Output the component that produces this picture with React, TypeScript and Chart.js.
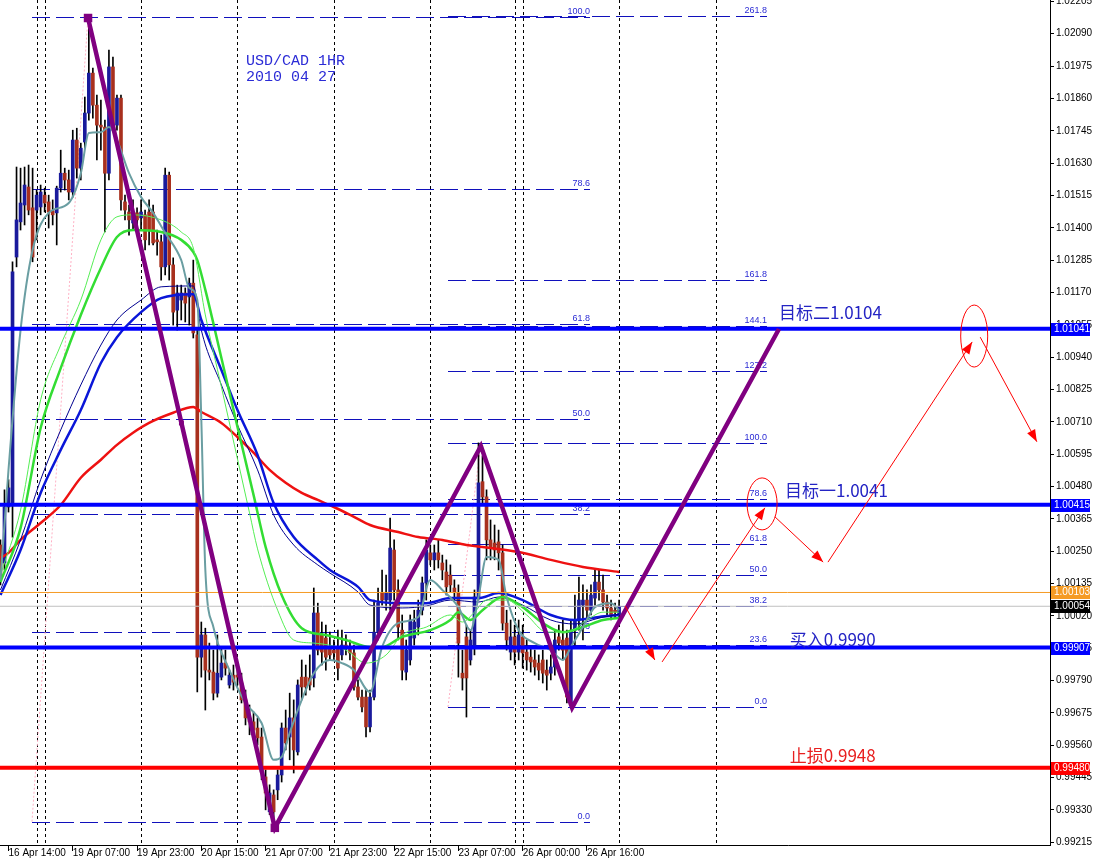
import React, { useEffect, useRef } from 'react';
import { Chart, registerables } from 'chart.js';

Chart.register(...registerables);

// ---------- candles (hourly USD/CAD), bar index starts at FIRST_BAR ----------
const FIRST_BAR = -2;
const OPEN = [
  1.00272, 1.00208, 1.00407, 1.00414, 1.01296, 1.01421, 1.01481, 1.01545, 1.01471, 1.01463,
  1.01474, 1.01516, 1.01492, 1.01460, 1.01453, 1.01541, 1.01594, 1.01570, 1.01527, 1.01712,
  1.01612, 1.01705, 1.01808, 1.01950, 1.01836, 1.01765, 1.01758, 1.01594, 1.01972, 1.01765,
  1.01861, 1.01492, 1.01456, 1.01417, 1.01453, 1.01435, 1.01446, 1.01456, 1.01456, 1.01357,
  1.01350, 1.01261, 1.01587, 1.01268, 1.01107, 1.01143, 1.01168, 1.01154, 1.01203, 1.01019,
  0.99873, 0.99952, 0.99827, 0.99820, 0.99745, 0.99802, 0.99852, 0.99774, 0.99809, 0.99809,
  0.99781, 0.99721, 0.99657, 0.99643, 0.99621, 0.99589, 0.99447, 0.99323, 0.99383, 0.99401,
  0.99454, 0.99621, 0.99589, 0.99657, 0.99536, 0.99802, 0.99802, 0.99799, 0.99799, 1.00030,
  0.99952, 0.99941, 0.99905, 0.99898, 0.99909, 0.99881, 0.99916, 0.99909, 0.99888, 0.99767,
  0.99731, 0.99731, 0.99625, 0.99731, 0.99962, 1.00101, 1.00076, 1.00076, 1.00254, 1.00112,
  0.99969, 0.99820, 0.99863, 0.99941, 0.99980, 1.00040, 1.00137, 1.00244, 1.00219, 1.00244,
  1.00208, 1.00176, 1.00165, 1.00119, 1.00101, 0.99816, 0.99945, 0.99863, 0.99909, 1.00087,
  1.00497, 1.00443, 1.00290, 1.00279, 1.00283, 1.00244, 0.99994, 0.99891, 0.99945, 0.99891,
  0.99945, 0.99891, 0.99873, 0.99863, 0.99852, 0.99863, 0.99827, 0.99816, 0.99838, 0.99945,
  0.99934, 0.99941, 0.99714, 0.99969, 1.00005, 1.00058, 1.00076, 1.00040, 1.00083, 1.00140,
  1.00112, 1.00069, 1.00048, 1.00040, 1.00023,
];
const HIGH = [
  1.00290, 1.00468, 1.00504, 1.01279, 1.01616, 1.01612, 1.01616, 1.01623, 1.01612, 1.01534,
  1.01552, 1.01541, 1.01516, 1.01499, 1.01548, 1.01676, 1.01612, 1.01605, 1.01747, 1.01754,
  1.01701, 1.01865, 1.02139, 1.01968, 1.01872, 1.01854, 1.01783, 1.02032, 1.02007, 1.01872,
  1.01872, 1.01516, 1.01481, 1.01499, 1.01471, 1.01499, 1.01463, 1.01499, 1.01481, 1.01392,
  1.01374, 1.01612, 1.01598, 1.01293, 1.01196, 1.01196, 1.01186, 1.01221, 1.01285, 1.01036,
  0.99998, 0.99976, 0.99923, 0.99898, 0.99952, 0.99905, 0.99898, 0.99827, 0.99845, 0.99834,
  0.99816, 0.99756, 0.99703, 0.99678, 0.99657, 0.99621, 0.99472, 0.99419, 0.99401, 0.99472,
  0.99639, 0.99685, 0.99745, 0.99721, 0.99792, 0.99863, 0.99845, 0.99881, 1.00119, 1.00065,
  0.99998, 0.99987, 0.99962, 0.99934, 0.99969, 0.99969, 0.99952, 0.99934, 0.99916, 0.99792,
  0.99756, 0.99756, 0.99756, 1.00076, 1.00119, 1.00183, 1.00165, 1.00368, 1.00290, 1.00148,
  1.00023, 0.99934, 1.00023, 1.00040, 1.00076, 1.00158, 1.00290, 1.00272, 1.00272, 1.00290,
  1.00236, 1.00219, 1.00201, 1.00148, 1.00130, 0.99898, 0.99987, 0.99969, 1.00112, 1.00635,
  1.00589, 1.00468, 1.00361, 1.00343, 1.00325, 1.00272, 1.00040, 1.00005, 0.99987, 1.00005,
  0.99987, 0.99934, 0.99905, 0.99898, 0.99881, 0.99898, 0.99863, 0.99881, 0.99969, 0.99987,
  1.00005, 0.99969, 1.00005, 1.00094, 1.00158, 1.00130, 1.00112, 1.00130, 1.00183, 1.00183,
  1.00165, 1.00094, 1.00076, 1.00065, 1.00076,
];
const LOW = [
  1.00130, 1.00183, 1.00389, 1.00300, 1.01261, 1.01392, 1.01410, 1.01446, 1.01279, 1.01357,
  1.01446, 1.01456, 1.01399, 1.01410, 1.01339, 1.01527, 1.01534, 1.01499, 1.01509, 1.01577,
  1.01570, 1.01683, 1.01783, 1.01790, 1.01641, 1.01676, 1.01385, 1.01570, 1.01747, 1.01747,
  1.01463, 1.01428, 1.01374, 1.01392, 1.01374, 1.01392, 1.01321, 1.01339, 1.01339, 1.01303,
  1.01214, 1.01232, 1.01214, 1.01054, 1.01036, 1.01072, 1.01065, 1.01054, 1.01008, 0.99749,
  0.99802, 0.99685, 0.99792, 0.99721, 0.99731, 0.99792, 0.99809, 0.99763, 0.99756, 0.99774,
  0.99710, 0.99632, 0.99597, 0.99579, 0.99561, 0.99437, 0.99330, 0.99313, 0.99288, 0.99366,
  0.99429, 0.99543, 0.99508, 0.99461, 0.99525, 0.99721, 0.99738, 0.99756, 0.99767, 0.99881,
  0.99845, 0.99827, 0.99863, 0.99863, 0.99792, 0.99863, 0.99881, 0.99863, 0.99756, 0.99721,
  0.99678, 0.99589, 0.99607, 0.99721, 0.99934, 1.00058, 1.00040, 1.00040, 1.00076, 0.99934,
  0.99792, 0.99792, 0.99845, 0.99916, 0.99952, 1.00023, 1.00076, 1.00201, 1.00183, 1.00190,
  1.00148, 1.00094, 1.00105, 1.00076, 0.99802, 0.99756, 0.99660, 0.99845, 0.99881, 1.00076,
  1.00414, 1.00219, 1.00219, 1.00219, 1.00183, 0.99969, 0.99898, 0.99863, 0.99845, 0.99863,
  0.99834, 0.99827, 0.99820, 0.99809, 0.99792, 0.99781, 0.99756, 0.99792, 0.99809, 0.99898,
  0.99863, 0.99710, 0.99692, 0.99916, 0.99969, 0.99934, 1.00005, 1.00023, 1.00058, 1.00076,
  1.00040, 1.00023, 1.00005, 1.00012, 1.00012,
];
const CLOSE = [
  1.00158, 1.00407, 1.00475, 1.01243, 1.01428, 1.01488, 1.01552, 1.01463, 1.01296, 1.01516,
  1.01527, 1.01488, 1.01456, 1.01446, 1.01541, 1.01594, 1.01570, 1.01527, 1.01712, 1.01612,
  1.01683, 1.01808, 1.01950, 1.01836, 1.01765, 1.01758, 1.01594, 1.01972, 1.01765, 1.01861,
  1.01499, 1.01463, 1.01428, 1.01453, 1.01428, 1.01456, 1.01357, 1.01392, 1.01346, 1.01350,
  1.01261, 1.01587, 1.01268, 1.01100, 1.01168, 1.01168, 1.01132, 1.01203, 1.01026, 0.99873,
  0.99952, 0.99827, 0.99820, 0.99745, 0.99816, 0.99852, 0.99834, 0.99809, 0.99784, 0.99802,
  0.99721, 0.99657, 0.99643, 0.99614, 0.99586, 0.99465, 0.99390, 0.99390, 0.99323, 0.99454,
  0.99621, 0.99568, 0.99657, 0.99543, 0.99774, 0.99767, 0.99767, 0.99774, 1.00030, 0.99898,
  0.99891, 0.99873, 0.99881, 0.99888, 0.99834, 0.99916, 0.99905, 0.99888, 0.99767, 0.99731,
  0.99696, 0.99625, 0.99731, 0.99962, 1.00065, 1.00076, 1.00101, 1.00261, 1.00112, 0.99980,
  0.99827, 0.99898, 1.00005, 0.99998, 1.00040, 1.00137, 1.00254, 1.00219, 1.00244, 1.00219,
  1.00183, 1.00123, 1.00130, 1.00105, 0.99923, 0.99799, 0.99799, 0.99934, 1.00087, 1.00493,
  1.00443, 1.00290, 1.00265, 1.00254, 1.00244, 0.99994, 0.99934, 0.99945, 0.99891, 0.99952,
  0.99888, 0.99863, 0.99856, 0.99838, 0.99827, 0.99816, 0.99809, 0.99838, 0.99934, 0.99923,
  0.99898, 0.99731, 0.99969, 1.00005, 1.00076, 1.00076, 1.00040, 1.00094, 1.00140, 1.00112,
  1.00069, 1.00048, 1.00023, 1.00033, 1.00054,
];

// ---------- moving averages, read at sampled bars: [bar, price] ----------
const MA_TEAL = [
  [-2, 1.00147], [0, 1.00539], [3, 1.01036], [6, 1.01321], [10, 1.01453], [15, 1.01488], [18, 1.01594],
  [20, 1.01737], [23, 1.0174], [25, 1.01758], [27, 1.01712], [30, 1.01594], [33, 1.01509], [36, 1.01453],
  [39, 1.01382], [43, 1.01285], [45, 1.01186], [47, 1.01143], [48, 1.00717], [49, 1.00183], [51, 0.9998],
  [55, 0.99827], [59, 0.9971], [63, 0.99639], [66, 0.99508], [68, 0.99518], [70, 0.99604], [73, 0.99721],
  [76, 0.99816], [80, 0.99863], [83, 0.99852], [86, 0.99827], [90, 0.99749], [93, 0.99909], [97, 0.99994],
  [102, 1.00016], [105, 1.00147], [108, 1.00112], [112, 1.00051], [115, 0.99969], [117, 1.00087],
  [119, 1.00229], [122, 1.00219], [124, 1.00087], [127, 0.99969], [131, 0.99923], [135, 0.99898],
  [138, 0.99863], [140, 0.99909], [143, 0.9998], [146, 1.00051], [150, 1.00065], [152, 1.0004],
];
const MA_LIME = [
  [-2, 1.00165], [3, 1.00396], [8, 1.00788], [13, 1.00983], [18, 1.01143], [23, 1.01357], [27, 1.01439],
  [31, 1.01446], [38, 1.01428], [43, 1.01385], [46, 1.01328], [49, 1.0109], [53, 1.00834], [57, 1.00578],
  [60, 1.00386], [62, 1.00258], [67, 1.0004], [71, 0.99934], [76, 0.99923], [84, 0.99898], [89, 0.99852],
  [94, 0.99881], [98, 0.99952], [104, 0.9998], [110, 1.00023], [113, 0.99998], [116, 1.00033],
  [119, 1.00076], [124, 1.00076], [129, 1.00023], [134, 0.99962], [139, 0.99962], [144, 1.00005],
  [148, 1.00033], [152, 1.00033],
];
const MA_GREEN = [
  [-2, 1.0014], [3, 1.00332], [8, 1.00688], [13, 1.00901], [18, 1.0109], [23, 1.01257], [27, 1.01367],
  [31, 1.01392], [38, 1.01385], [43, 1.01357], [46, 1.01314], [47, 1.01285], [49, 1.01179], [53, 1.00937],
  [57, 1.00692], [61, 1.0045], [64, 1.00265], [68, 1.00094], [73, 0.99976], [79, 0.99952], [84, 0.99934],
  [90, 0.99909], [93, 0.99909], [98, 0.99945], [105, 0.99969], [110, 1.00005], [112, 1.00033],
  [115, 1.00005], [118, 1.0004], [123, 1.00087], [128, 1.00051], [133, 0.99994], [138, 0.99962],
  [143, 0.9998], [148, 1.00005], [152, 1.00012],
];
const MA_NAVY = [
  [-2, 1.00112], [3, 1.0029], [8, 1.00504], [13, 1.00681], [18, 1.00841], [23, 1.00983], [27, 1.01072],
  [33, 1.01143], [38, 1.0119], [46, 1.01193], [48, 1.01036], [53, 1.00841], [57, 1.00699], [62, 1.00539],
  [66, 1.00379], [71, 1.00272], [77, 1.00201], [80, 1.00172], [87, 1.00105], [90, 1.00058], [98, 1.00048],
  [104, 1.00055], [110, 1.00076], [117, 1.00069], [122, 1.00087], [128, 1.00058], [135, 1.00005],
  [141, 0.99991], [147, 1.00012], [152, 1.00026],
];
const MA_BLUE = [
  [-2, 1.00094], [3, 1.00254], [8, 1.00457], [13, 1.0061], [18, 1.00752], [23, 1.00919], [27, 1.01011],
  [33, 1.011], [38, 1.0115], [46, 1.01164], [48, 1.01072], [53, 1.00894], [57, 1.00752], [62, 1.00592],
  [66, 1.00421], [71, 1.003], [77, 1.00219], [80, 1.00183], [87, 1.00123], [90, 1.00076], [98, 1.00065],
  [104, 1.00065], [110, 1.00083], [117, 1.00083], [122, 1.00101], [128, 1.00076], [135, 1.00023],
  [141, 1.00005], [147, 1.00016], [152, 1.00023],
];
const MA_RED = [
  [-2, 1.00226], [0, 1.00244], [3, 1.0029], [8, 1.0035], [13, 1.00414], [18, 1.00511], [23, 1.00575],
  [27, 1.00628], [31, 1.00671], [35, 1.00706], [41, 1.00742], [46, 1.00763], [48, 1.00745], [53, 1.00706],
  [57, 1.00656], [61, 1.006], [65, 1.00539], [69, 1.00493], [73, 1.00457], [77, 1.00432], [81, 1.00407],
  [86, 1.00372], [90, 1.00343], [97, 1.00318], [102, 1.003], [108, 1.0029], [114, 1.00272], [118, 1.00265],
  [127, 1.00247], [135, 1.00219], [143, 1.00194], [152, 1.00176],
];

// ---------- axes ----------
const X_MIN = -2.116;
const X_MAX = 259.27;
const Y_MIN = 0.99205;
const Y_MAX = 1.0221;
const Y_TICKS = [
  0.99215, 0.9933, 0.99445, 0.9956, 0.99675, 0.9979, 0.99905, 1.0002, 1.00135, 1.0025, 1.00365,
  1.0048, 1.00595, 1.0071, 1.00825, 1.0094, 1.01055, 1.0117, 1.01285, 1.014, 1.01515, 1.0163,
  1.01745, 1.0186, 1.01975, 1.0209, 1.02205,
];
const X_TICK_BARS = [0, 16, 32, 48, 64, 80, 96, 112, 128, 144];
const X_TICK_LABELS = [
  '16 Apr 14:00', '19 Apr 07:00', '19 Apr 23:00', '20 Apr 15:00', '21 Apr 07:00',
  '21 Apr 23:00', '22 Apr 15:00', '23 Apr 07:00', '26 Apr 00:00', '26 Apr 16:00',
];
const DAY_SEPARATORS = [7, 9, 33, 57, 81, 105, 126, 128, 152, 176];

// ---------- drawings ----------
const PATTERN = [[19.8, 1.02146], [43.05, 1.00706], [66.3, 0.99266], [117.6, 1.00624], [140.3, 0.99693], [191.8, 1.0104]];
const PATTERN_MARKERS = [6, 3.5, 6, 0, 0, 0];

// [bar of low anchor, low, bar of high anchor, high, bar where levels end]
const FIB_1 = [5.85, 0.99288, 19.8, 1.0215, 144.8];
const FIB_1_LEVELS = [0, 23.6, 38.2, 50, 61.8, 78.6, 100];
const FIB_2 = [109.4, 0.99696, 117.6, 1.00635, 188.8];
const FIB_2_LEVELS = [0, 23.6, 38.2, 50, 61.8, 78.6, 100, 127.2, 144.1, 161.8, 261.8];

const H_LEVELS = [1.01041, 1.00415, 0.99907, 0.9948, 1.00103, 1.00054];
const H_COLORS = ['#0000ff', '#0000ff', '#0000ff', '#ff0000', '#f59b23', '#c0c0c0'];
const H_WIDTHS = [4, 4, 4, 4, 1, 1];
const TAG_COLORS = ['#0000ff', '#0000ff', '#0000ff', '#ff0000', '#f59b23', '#000000'];

const ARROWS = [
  [153.5, 1.00055, 160.9, 0.99863],
  [162.7, 0.99856, 188.3, 1.00404],
  [190.8, 1.00372, 202.8, 1.00211],
  [204, 1.00211, 239.9, 1.00994],
  [241.9, 1.01011, 256, 1.00639],
];
const ELLIPSES = [[187.6, 1.00418], [240.4, 1.01015]];
const ELLIPSE_RADII = [[15, 26], [13.5, 31]];

const TITLE_LINES = [['USD/CAD 1HR', 59.1, 1.01993], ['2010 04 27', 59.1, 1.01936]];
const TARGETS = [
  ['目标二1.0104', 191.8, 1.01097],
  ['目标一1.0041', 193.3, 1.00464],
  ['买入0.9990', 194.5, 0.99937],
  ['止损0.9948', 194.5, 0.99522],
];
const TARGET_COLORS = ['#2424c4', '#2424c4', '#2424c4', '#e82020'];

const BULL = '#1a1a9c';
const BEAR = '#a8301e';

const snap = (v: number) => Math.round(v) + 0.5;

const overlayPlugin = {
  id: 'overlay',
  beforeDatasetsDraw(chart: any) {
    const { ctx, chartArea: a, scales } = chart;
    const xs = scales.x;
    const ys = scales.y;
    ctx.save();
    ctx.beginPath();
    ctx.rect(a.left, a.top, a.right - a.left, a.bottom - a.top);
    ctx.clip();
    ctx.lineWidth = 1;
    ctx.strokeStyle = '#000';
    ctx.setLineDash([3, 3]);
    DAY_SEPARATORS.forEach((b) => {
      const px = snap(xs.getPixelForValue(b));
      ctx.beginPath();
      ctx.moveTo(px, a.top);
      ctx.lineTo(px, a.bottom);
      ctx.stroke();
    });
    const drawFib = (f: number[], levels: number[]) => {
      const [x0, lo, x1, hi, xr] = f;
      const left = Math.round(xs.getPixelForValue(Math.min(x0, x1)));
      const right = Math.round(xs.getPixelForValue(xr));
      ctx.font = '9px "Liberation Sans"';
      ctx.textAlign = 'right';
      ctx.textBaseline = 'bottom';
      levels.forEach((l) => {
        const py = snap(ys.getPixelForValue(lo + ((hi - lo) * l) / 100));
        ctx.setLineDash([18, 6]);
        ctx.strokeStyle = '#1010bc';
        ctx.beginPath();
        ctx.moveTo(left, py);
        ctx.lineTo(right, py);
        ctx.stroke();
        ctx.fillStyle = '#2a2ad4';
        ctx.fillText(l.toFixed(1), right, py - 1);
      });
      ctx.setLineDash([2, 2]);
      ctx.strokeStyle = '#ffb0c4';
      ctx.beginPath();
      ctx.moveTo(xs.getPixelForValue(x0), ys.getPixelForValue(lo));
      ctx.lineTo(xs.getPixelForValue(x1), ys.getPixelForValue(hi));
      ctx.stroke();
    };
    drawFib(FIB_1, FIB_1_LEVELS);
    drawFib(FIB_2, FIB_2_LEVELS);
    ctx.restore();
  },
  afterDatasetsDraw(chart: any) {
    const { ctx, chartArea: a, scales } = chart;
    const xs = scales.x;
    const ys = scales.y;
    ctx.save();
    ctx.beginPath();
    ctx.rect(a.left, a.top, a.right - a.left, a.bottom - a.top);
    ctx.clip();
    ctx.setLineDash([]);
    ctx.lineWidth = 1;
    ctx.strokeStyle = '#ff0000';
    ctx.fillStyle = '#ff0000';
    ARROWS.forEach(([ax, ay, bx, by]) => {
      const x1 = xs.getPixelForValue(ax);
      const y1 = ys.getPixelForValue(ay);
      const x2 = xs.getPixelForValue(bx);
      const y2 = ys.getPixelForValue(by);
      const ang = Math.atan2(y2 - y1, x2 - x1);
      ctx.beginPath();
      ctx.moveTo(x1, y1);
      ctx.lineTo(x2, y2);
      ctx.stroke();
      const L = 12;
      const W = 4.5;
      const c = Math.cos(ang);
      const s = Math.sin(ang);
      ctx.beginPath();
      ctx.moveTo(x2, y2);
      ctx.lineTo(x2 - L * c + W * s, y2 - L * s - W * c);
      ctx.lineTo(x2 - L * c - W * s, y2 - L * s + W * c);
      ctx.closePath();
      ctx.fill();
    });
    ELLIPSES.forEach(([ex, ey], k) => {
      ctx.beginPath();
      ctx.ellipse(xs.getPixelForValue(ex), ys.getPixelForValue(ey), ELLIPSE_RADII[k][0], ELLIPSE_RADII[k][1], 0, 0, Math.PI * 2);
      ctx.stroke();
    });
    ctx.textAlign = 'left';
    ctx.textBaseline = 'middle';
    ctx.font = '15px "Liberation Mono"';
    ctx.fillStyle = '#2b2bd6';
    TITLE_LINES.forEach(([t, tx, ty]: any) => {
      ctx.fillText(t, xs.getPixelForValue(tx), ys.getPixelForValue(ty));
    });
    ctx.font = '17px "Noto Sans CJK SC"';
    TARGETS.forEach(([t, tx, ty]: any, k) => {
      ctx.fillStyle = TARGET_COLORS[k];
      ctx.fillText(t, xs.getPixelForValue(tx), ys.getPixelForValue(ty));
    });
    ctx.restore();
  },
  afterDraw(chart: any) {
    const { ctx, chartArea: a, scales } = chart;
    const ys = scales.y;
    ctx.save();
    ctx.font = '10px "Liberation Sans"';
    ctx.textBaseline = 'middle';
    ctx.textAlign = 'left';
    H_LEVELS.forEach((p, k) => {
      const py = Math.round(ys.getPixelForValue(p));
      ctx.fillStyle = TAG_COLORS[k];
      ctx.fillRect(a.right + 1, py - 6, 39, 13);
      ctx.fillStyle = '#ffffff';
      ctx.fillText(p.toFixed(5), a.right + 4, py + 0.5);
    });
    ctx.restore();
  },
};

const toPoints = (arr: number[][]) => arr.map(([x, y]) => ({ x, y }));

const zeroPadding = (s: any) => {
  s.paddingLeft = 0;
  s.paddingRight = 0;
  s.paddingTop = 0;
  s.paddingBottom = 0;
};

export default function App() {
  const ref = useRef<HTMLCanvasElement | null>(null);

  useEffect(() => {
    if (!ref.current) return;
    const bars = CLOSE.map((_, k) => FIRST_BAR + k);
    const maLine = (data: number[][], color: string, width: number) => ({
      type: 'line',
      data: toPoints(data),
      borderColor: color,
      backgroundColor: color,
      borderWidth: width,
      pointRadius: 0,
      fill: false,
      cubicInterpolationMode: 'monotone',
    });
    const hLines = H_LEVELS.map((p, k) => ({
      type: 'line',
      data: [{ x: X_MIN, y: p }, { x: X_MAX, y: p }],
      borderColor: H_COLORS[k],
      borderWidth: H_WIDTHS[k],
      pointRadius: 0,
      fill: false,
    }));

    const datasets: any[] = [
      {
        type: 'line',
        data: toPoints(PATTERN),
        borderColor: '#800080',
        backgroundColor: '#800080',
        borderWidth: 4.5,
        pointStyle: 'rect',
        pointRadius: PATTERN_MARKERS,
        pointBorderWidth: 0,
        pointBackgroundColor: '#800080',
        fill: false,
        tension: 0,
      },
      ...hLines,
      maLine(MA_TEAL, '#6a9ea2', 2),
      maLine(MA_LIME, '#55ee55', 1),
      maLine(MA_GREEN, '#33dd33', 2.5),
      maLine(MA_NAVY, '#000090', 1),
      maLine(MA_BLUE, '#0a16d8', 2.5),
      maLine(MA_RED, '#ee1111', 2.5),
      {
        type: 'bar',
        data: bars.map((x, k) => ({ x, y: [OPEN[k], CLOSE[k]] })),
        backgroundColor: bars.map((_, k) => (CLOSE[k] >= OPEN[k] ? BULL : BEAR)),
        barThickness: 3,
        minBarLength: 1,
        grouped: false,
        borderWidth: 0,
      },
      {
        type: 'bar',
        data: bars.map((x, k) => ({ x, y: [LOW[k], HIGH[k]] })),
        backgroundColor: '#000000',
        barThickness: 1,
        minBarLength: 1,
        grouped: false,
        borderWidth: 0,
      },
    ];

    const font = { family: '"Liberation Sans", Arial, sans-serif', size: 10 };

    const chart = new Chart(ref.current, {
      type: 'bar',
      data: { datasets },
      options: {
        animation: false,
        responsive: false,
        devicePixelRatio: 1,
        events: [],
        layout: { padding: 0, autoPadding: false },
        plugins: {
          legend: { display: false },
          tooltip: { enabled: false },
          title: { display: false },
        },
        scales: {
          x: {
            type: 'linear',
            position: 'bottom',
            min: X_MIN,
            max: X_MAX,
            bounds: 'data',
            offset: false,
            grid: { display: true, drawOnChartArea: false, drawTicks: true, tickLength: 6, color: '#000000', offset: false },
            border: { display: true, color: '#000000', width: 1 },
            afterBuildTicks: (s: any) => {
              s.ticks = X_TICK_BARS.map((v) => ({ value: v }));
            },
            afterFit: (s: any) => {
              s.height = 19;
              zeroPadding(s);
            },
            ticks: {
              autoSkip: false,
              maxRotation: 0,
              minRotation: 0,
              align: 'start',
              padding: -4,
              color: '#000000',
              font,
              callback: (_v: any, i: number) => X_TICK_LABELS[i],
            },
          },
          y: {
            type: 'linear',
            position: 'right',
            min: Y_MIN,
            max: Y_MAX,
            bounds: 'data',
            grid: { display: true, drawOnChartArea: false, drawTicks: true, tickLength: 4, color: '#000000' },
            border: { display: true, color: '#000000', width: 1 },
            afterBuildTicks: (s: any) => {
              s.ticks = Y_TICKS.map((v) => ({ value: v }));
            },
            afterFit: (s: any) => {
              s.width = 43;
              zeroPadding(s);
            },
            ticks: {
              autoSkip: false,
              padding: 2,
              color: '#000000',
              font,
              callback: (v: any) => Number(v).toFixed(5),
            },
          },
        },
      } as any,
      plugins: [overlayPlugin],
    } as any);

    return () => chart.destroy();
  }, []);

  return (
    <div style={{ width: 1093, height: 864, background: '#ffffff', position: 'relative', overflow: 'hidden' }}>
      <style>{'body{margin:0;background:#fff;}'}</style>
      <canvas ref={ref} width={1093} height={864} style={{ display: 'block' }} />
    </div>
  );
}
